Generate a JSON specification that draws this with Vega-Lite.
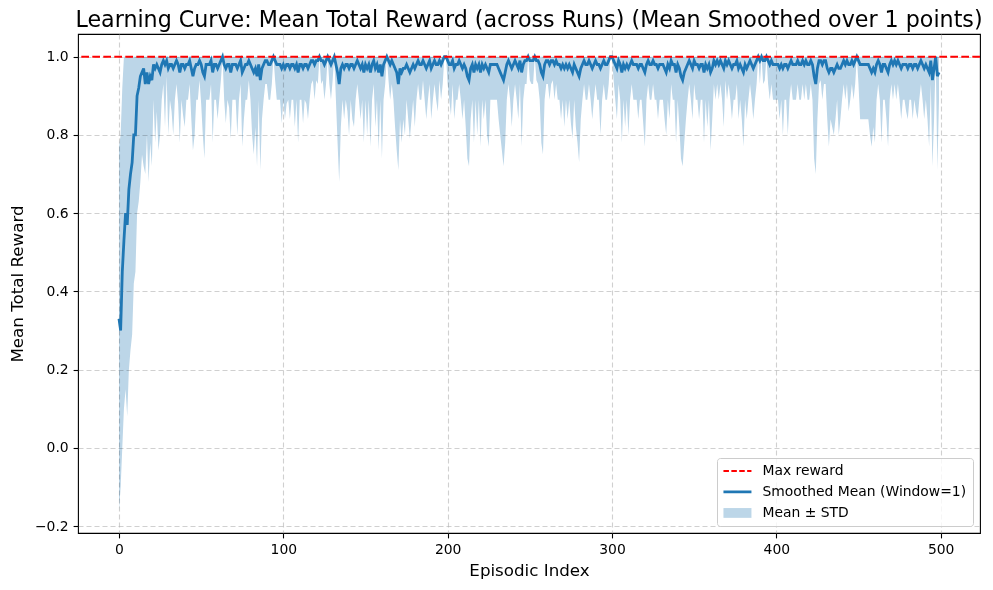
{
"$schema": "https://vega.github.io/schema/vega-lite/v6.json",
"width": 902, "height": 499,
"autosize": {"type": "none"},
"padding": {"left": 78, "top": 34, "right": 13, "bottom": 57},
"config": {
  "font": "DejaVu Sans",
  "view": {"stroke": "#000000", "strokeWidth": 1.1},
  "axis": {"domain": false, "labelFont": "DejaVu Sans", "labelFontSize": 13.9, "labelColor": "#000000", "tickColor": "#000000", "tickSize": 4.9, "tickWidth": 1.1, "labelPadding": 4.9, "grid": true, "gridColor": "#b0b0b0", "gridOpacity": 0.6, "gridDash": [5, 3], "gridWidth": 1.1, "titleFont": "DejaVu Sans", "titleFontSize": 16.7, "titleFontWeight": "normal", "titleColor": "#000000"},
  "legend": {"title": null, "orient": "bottom-right", "offset": 7, "labelFont": "DejaVu Sans", "labelFontSize": 13.9, "labelColor": "#000000", "labelLimit": 0, "symbolSize": 196, "symbolOpacity": 1, "symbolOffset": 7.5, "labelOffset": 18, "padding": 6, "rowPadding": 6, "strokeColor": "#cccccc", "fillColor": "rgba(255,255,255,0.8)", "cornerRadius": 3}
},
"title": {"text": "Learning Curve: Mean Total Reward (across Runs) (Mean Smoothed over 1 points)", "font": "DejaVu Sans", "fontSize": 22.2, "fontWeight": "normal", "color": "#000000", "anchor": "middle", "offset": 3},
"data": {"values": [
{"e":0,"m":0.33,"lo":-0.16,"hi":0.77},{"e":1,"m":0.30,"lo":-0.10,"hi":0.80},{"e":2,"m":0.45,"lo":0.0,"hi":0.92},{"e":3,"m":0.53,"lo":0.10,"hi":1},{"e":4,"m":0.60,"lo":0.15,"hi":1},{"e":5,"m":0.57,"lo":0.08,"hi":1},{"e":6,"m":0.66,"lo":0.20,"hi":1},{"e":7,"m":0.70,"lo":0.25,"hi":1},{"e":8,"m":0.73,"lo":0.29,"hi":1},{"e":9,"m":0.80,"lo":0.42,"hi":1},
{"e":10,"m":0.80,"lo":0.45,"hi":1},{"e":11,"m":0.90,"lo":0.60,"hi":1},{"e":12,"m":0.92,"lo":0.63,"hi":1},{"e":13,"m":0.95,"lo":0.68,"hi":1},{"e":14,"m":0.96,"lo":0.75,"hi":1},{"e":15,"m":0.97,"lo":0.72,"hi":1},{"e":16,"m":0.93,"lo":0.70,"hi":1},{"e":17,"m":0.96,"lo":0.80,"hi":1},{"e":18,"m":0.93,"lo":0.68,"hi":1},{"e":19,"m":0.95,"lo":0.78,"hi":1},
{"e":20,"m":0.94,"lo":0.72,"hi":1},{"e":21,"m":0.98,"lo":0.89,"hi":1},{"e":22,"m":0.97,"lo":0.78,"hi":1},{"e":23,"m":0.98,"lo":0.86,"hi":1},{"e":24,"m":0.97,"lo":0.76,"hi":1},{"e":25,"m":0.96,"lo":0.80,"hi":1},{"e":26,"m":0.98,"lo":0.89,"hi":1},{"e":27,"m":0.99,"lo":0.93,"hi":1},{"e":28,"m":0.98,"lo":0.82,"hi":1},{"e":29,"m":0.99,"lo":0.95,"hi":1},
{"e":30,"m":0.97,"lo":0.80,"hi":1},{"e":31,"m":0.98,"lo":0.89,"hi":1},{"e":32,"m":0.98,"lo":0.86,"hi":1},{"e":33,"m":0.97,"lo":0.80,"hi":1},{"e":34,"m":0.98,"lo":0.89,"hi":1},{"e":35,"m":0.99,"lo":0.93,"hi":1},{"e":36,"m":0.98,"lo":0.88,"hi":1},{"e":37,"m":0.96,"lo":0.78,"hi":1},{"e":38,"m":0.98,"lo":0.89,"hi":1},{"e":39,"m":0.98,"lo":0.85,"hi":1},
{"e":40,"m":0.97,"lo":0.82,"hi":1},{"e":41,"m":0.98,"lo":0.89,"hi":1},{"e":42,"m":0.98,"lo":0.89,"hi":1},{"e":43,"m":0.99,"lo":0.93,"hi":1},{"e":44,"m":0.97,"lo":0.84,"hi":1},{"e":45,"m":0.95,"lo":0.76,"hi":1},{"e":46,"m":0.97,"lo":0.80,"hi":1},{"e":47,"m":0.98,"lo":0.89,"hi":1},{"e":48,"m":0.98,"lo":0.89,"hi":1},{"e":49,"m":0.99,"lo":0.94,"hi":1},
{"e":50,"m":0.98,"lo":0.88,"hi":1},{"e":51,"m":0.96,"lo":0.80,"hi":1},{"e":52,"m":0.95,"lo":0.74,"hi":1},{"e":53,"m":0.98,"lo":0.89,"hi":1},{"e":54,"m":0.98,"lo":0.89,"hi":1},{"e":55,"m":0.98,"lo":0.89,"hi":1},{"e":56,"m":0.99,"lo":0.93,"hi":1},{"e":57,"m":0.96,"lo":0.78,"hi":1},{"e":58,"m":0.98,"lo":0.89,"hi":1},{"e":59,"m":0.98,"lo":0.89,"hi":1},
{"e":60,"m":0.97,"lo":0.84,"hi":1},{"e":61,"m":0.98,"lo":0.89,"hi":1},{"e":62,"m":0.99,"lo":0.94,"hi":1},{"e":63,"m":1.0,"lo":1.0,"hi":1},{"e":64,"m":0.98,"lo":0.89,"hi":1},{"e":65,"m":0.97,"lo":0.83,"hi":1},{"e":66,"m":0.98,"lo":0.89,"hi":1},{"e":67,"m":0.98,"lo":0.87,"hi":1},{"e":68,"m":0.96,"lo":0.79,"hi":1},{"e":69,"m":0.98,"lo":0.89,"hi":1},
{"e":70,"m":0.98,"lo":0.89,"hi":1},{"e":71,"m":0.98,"lo":0.89,"hi":1},{"e":72,"m":0.97,"lo":0.80,"hi":1},{"e":73,"m":0.98,"lo":0.89,"hi":1},{"e":74,"m":0.99,"lo":0.93,"hi":1},{"e":75,"m":0.96,"lo":0.77,"hi":1},{"e":76,"m":0.97,"lo":0.84,"hi":1},{"e":77,"m":0.98,"lo":0.89,"hi":1},{"e":78,"m":0.98,"lo":0.89,"hi":1},{"e":79,"m":0.99,"lo":0.94,"hi":1},
{"e":80,"m":0.98,"lo":0.89,"hi":1},{"e":81,"m":0.97,"lo":0.80,"hi":1},{"e":82,"m":0.96,"lo":0.75,"hi":1},{"e":83,"m":0.97,"lo":0.82,"hi":1},{"e":84,"m":0.95,"lo":0.72,"hi":1},{"e":85,"m":0.98,"lo":0.89,"hi":1},{"e":86,"m":0.94,"lo":0.71,"hi":1},{"e":87,"m":0.97,"lo":0.84,"hi":1},{"e":88,"m":0.98,"lo":0.89,"hi":1},{"e":89,"m":0.99,"lo":0.93,"hi":1},
{"e":90,"m":0.99,"lo":0.93,"hi":1},{"e":91,"m":0.98,"lo":0.89,"hi":1},{"e":92,"m":0.98,"lo":0.89,"hi":1},{"e":93,"m":0.99,"lo":0.93,"hi":1},{"e":94,"m":1.0,"lo":1.0,"hi":1},{"e":95,"m":0.99,"lo":0.94,"hi":1},{"e":96,"m":0.98,"lo":0.89,"hi":1},{"e":97,"m":0.98,"lo":0.89,"hi":1},{"e":98,"m":0.98,"lo":0.89,"hi":1},{"e":99,"m":0.97,"lo":0.83,"hi":1},
{"e":100,"m":0.98,"lo":0.89,"hi":1},{"e":101,"m":0.97,"lo":0.84,"hi":1},{"e":102,"m":0.98,"lo":0.88,"hi":1},{"e":103,"m":0.98,"lo":0.89,"hi":1},{"e":104,"m":0.97,"lo":0.84,"hi":1},{"e":105,"m":0.98,"lo":0.89,"hi":1},{"e":106,"m":0.98,"lo":0.89,"hi":1},{"e":107,"m":0.97,"lo":0.82,"hi":1},{"e":108,"m":0.98,"lo":0.89,"hi":1},{"e":109,"m":0.96,"lo":0.78,"hi":1},
{"e":110,"m":0.98,"lo":0.89,"hi":1},{"e":111,"m":0.98,"lo":0.89,"hi":1},{"e":112,"m":0.97,"lo":0.83,"hi":1},{"e":113,"m":0.98,"lo":0.89,"hi":1},{"e":114,"m":0.98,"lo":0.88,"hi":1},{"e":115,"m":0.97,"lo":0.84,"hi":1},{"e":116,"m":0.98,"lo":0.89,"hi":1},{"e":117,"m":0.99,"lo":0.93,"hi":1},{"e":118,"m":0.99,"lo":0.94,"hi":1},{"e":119,"m":0.98,"lo":0.89,"hi":1},
{"e":120,"m":0.99,"lo":0.94,"hi":1},{"e":121,"m":0.99,"lo":0.93,"hi":1},{"e":122,"m":1.0,"lo":1.0,"hi":1},{"e":123,"m":0.99,"lo":0.93,"hi":1},{"e":124,"m":0.99,"lo":0.94,"hi":1},{"e":125,"m":0.98,"lo":0.89,"hi":1},{"e":126,"m":0.99,"lo":0.93,"hi":1},{"e":127,"m":1.0,"lo":1.0,"hi":1},{"e":128,"m":0.99,"lo":0.93,"hi":1},{"e":129,"m":0.98,"lo":0.89,"hi":1},
{"e":130,"m":0.99,"lo":0.94,"hi":1},{"e":131,"m":1.0,"lo":1.0,"hi":1},{"e":132,"m":0.98,"lo":0.89,"hi":1},{"e":133,"m":0.96,"lo":0.78,"hi":1},{"e":134,"m":0.93,"lo":0.68,"hi":1},{"e":135,"m":0.97,"lo":0.82,"hi":1},{"e":136,"m":0.98,"lo":0.89,"hi":1},{"e":137,"m":0.97,"lo":0.84,"hi":1},{"e":138,"m":0.98,"lo":0.89,"hi":1},{"e":139,"m":0.98,"lo":0.86,"hi":1},
{"e":140,"m":0.97,"lo":0.80,"hi":1},{"e":141,"m":0.98,"lo":0.89,"hi":1},{"e":142,"m":0.98,"lo":0.84,"hi":1},{"e":143,"m":0.97,"lo":0.82,"hi":1},{"e":144,"m":0.98,"lo":0.89,"hi":1},{"e":145,"m":0.99,"lo":0.93,"hi":1},{"e":146,"m":0.98,"lo":0.89,"hi":1},{"e":147,"m":0.97,"lo":0.84,"hi":1},{"e":148,"m":0.98,"lo":0.89,"hi":1},{"e":149,"m":0.96,"lo":0.78,"hi":1},
{"e":150,"m":0.98,"lo":0.89,"hi":1},{"e":151,"m":0.97,"lo":0.80,"hi":1},{"e":152,"m":0.98,"lo":0.89,"hi":1},{"e":153,"m":0.96,"lo":0.77,"hi":1},{"e":154,"m":0.98,"lo":0.89,"hi":1},{"e":155,"m":0.99,"lo":0.93,"hi":1},{"e":156,"m":0.97,"lo":0.82,"hi":1},{"e":157,"m":0.98,"lo":0.89,"hi":1},{"e":158,"m":0.96,"lo":0.76,"hi":1},{"e":159,"m":0.98,"lo":0.89,"hi":1},
{"e":160,"m":0.95,"lo":0.74,"hi":1},{"e":161,"m":0.98,"lo":0.89,"hi":1},{"e":162,"m":0.99,"lo":0.93,"hi":1},{"e":163,"m":1.0,"lo":1.0,"hi":1},{"e":164,"m":0.99,"lo":0.94,"hi":1},{"e":165,"m":0.98,"lo":0.89,"hi":1},{"e":166,"m":0.99,"lo":0.93,"hi":1},{"e":167,"m":0.98,"lo":0.89,"hi":1},{"e":168,"m":0.97,"lo":0.82,"hi":1},{"e":169,"m":0.96,"lo":0.76,"hi":1},
{"e":170,"m":0.93,"lo":0.71,"hi":1},{"e":171,"m":0.97,"lo":0.84,"hi":1},{"e":172,"m":0.96,"lo":0.78,"hi":1},{"e":173,"m":0.97,"lo":0.84,"hi":1},{"e":174,"m":0.97,"lo":0.80,"hi":1},{"e":175,"m":0.98,"lo":0.89,"hi":1},{"e":176,"m":0.97,"lo":0.84,"hi":1},{"e":177,"m":0.96,"lo":0.79,"hi":1},{"e":178,"m":0.97,"lo":0.84,"hi":1},{"e":179,"m":0.98,"lo":0.89,"hi":1},
{"e":180,"m":0.97,"lo":0.82,"hi":1},{"e":181,"m":0.98,"lo":0.89,"hi":1},{"e":182,"m":0.99,"lo":0.93,"hi":1},{"e":183,"m":0.98,"lo":0.89,"hi":1},{"e":184,"m":0.98,"lo":0.89,"hi":1},{"e":185,"m":0.99,"lo":0.94,"hi":1},{"e":186,"m":0.98,"lo":0.89,"hi":1},{"e":187,"m":0.97,"lo":0.84,"hi":1},{"e":188,"m":0.98,"lo":0.89,"hi":1},{"e":189,"m":0.99,"lo":0.93,"hi":1},
{"e":190,"m":0.97,"lo":0.84,"hi":1},{"e":191,"m":0.98,"lo":0.89,"hi":1},{"e":192,"m":0.99,"lo":0.93,"hi":1},{"e":193,"m":0.98,"lo":0.89,"hi":1},{"e":194,"m":0.98,"lo":0.86,"hi":1},{"e":195,"m":0.99,"lo":0.94,"hi":1},{"e":196,"m":0.98,"lo":0.89,"hi":1},{"e":197,"m":0.99,"lo":0.93,"hi":1},{"e":198,"m":1.0,"lo":1.0,"hi":1},{"e":199,"m":1.0,"lo":1.0,"hi":1},
{"e":200,"m":0.99,"lo":0.93,"hi":1},{"e":201,"m":0.98,"lo":0.89,"hi":1},{"e":202,"m":0.98,"lo":0.85,"hi":1},{"e":203,"m":0.99,"lo":0.93,"hi":1},{"e":204,"m":0.97,"lo":0.84,"hi":1},{"e":205,"m":0.98,"lo":0.89,"hi":1},{"e":206,"m":0.98,"lo":0.89,"hi":1},{"e":207,"m":0.99,"lo":0.93,"hi":1},{"e":208,"m":0.98,"lo":0.89,"hi":1},{"e":209,"m":0.97,"lo":0.84,"hi":1},
{"e":210,"m":0.98,"lo":0.89,"hi":1},{"e":211,"m":0.97,"lo":0.82,"hi":1},{"e":212,"m":0.95,"lo":0.74,"hi":1},{"e":213,"m":0.94,"lo":0.72,"hi":1},{"e":214,"m":0.97,"lo":0.84,"hi":1},{"e":215,"m":0.98,"lo":0.89,"hi":1},{"e":216,"m":0.96,"lo":0.78,"hi":1},{"e":217,"m":0.98,"lo":0.89,"hi":1},{"e":218,"m":0.97,"lo":0.80,"hi":1},{"e":219,"m":0.98,"lo":0.89,"hi":1},
{"e":220,"m":0.96,"lo":0.77,"hi":1},{"e":221,"m":0.98,"lo":0.89,"hi":1},{"e":222,"m":0.97,"lo":0.84,"hi":1},{"e":223,"m":0.98,"lo":0.89,"hi":1},{"e":224,"m":0.97,"lo":0.80,"hi":1},{"e":225,"m":0.96,"lo":0.77,"hi":1},{"e":226,"m":0.98,"lo":0.89,"hi":1},{"e":227,"m":0.98,"lo":0.89,"hi":1},{"e":228,"m":0.98,"lo":0.89,"hi":1},{"e":229,"m":0.98,"lo":0.89,"hi":1},
{"e":230,"m":0.98,"lo":0.89,"hi":1},{"e":231,"m":0.97,"lo":0.84,"hi":1},{"e":232,"m":0.96,"lo":0.80,"hi":1},{"e":233,"m":0.95,"lo":0.76,"hi":1},{"e":234,"m":0.94,"lo":0.72,"hi":1},{"e":235,"m":0.96,"lo":0.78,"hi":1},{"e":236,"m":0.98,"lo":0.89,"hi":1},{"e":237,"m":0.99,"lo":0.93,"hi":1},{"e":238,"m":0.98,"lo":0.89,"hi":1},{"e":239,"m":0.97,"lo":0.82,"hi":1},
{"e":240,"m":0.98,"lo":0.89,"hi":1},{"e":241,"m":0.99,"lo":0.93,"hi":1},{"e":242,"m":0.98,"lo":0.89,"hi":1},{"e":243,"m":0.97,"lo":0.84,"hi":1},{"e":244,"m":0.99,"lo":0.93,"hi":1},{"e":245,"m":0.96,"lo":0.77,"hi":1},{"e":246,"m":0.98,"lo":0.89,"hi":1},{"e":247,"m":0.99,"lo":0.93,"hi":1},{"e":248,"m":0.99,"lo":0.93,"hi":1},{"e":249,"m":1.0,"lo":1.0,"hi":1},
{"e":250,"m":0.99,"lo":0.94,"hi":1},{"e":251,"m":0.99,"lo":0.93,"hi":1},{"e":252,"m":0.99,"lo":0.93,"hi":1},{"e":253,"m":1.0,"lo":1.0,"hi":1},{"e":254,"m":0.99,"lo":0.94,"hi":1},{"e":255,"m":0.99,"lo":0.93,"hi":1},{"e":256,"m":0.98,"lo":0.89,"hi":1},{"e":257,"m":0.96,"lo":0.78,"hi":1},{"e":258,"m":0.95,"lo":0.75,"hi":1},{"e":259,"m":0.98,"lo":0.89,"hi":1},
{"e":260,"m":0.99,"lo":0.93,"hi":1},{"e":261,"m":0.99,"lo":0.93,"hi":1},{"e":262,"m":0.98,"lo":0.89,"hi":1},{"e":263,"m":0.99,"lo":0.93,"hi":1},{"e":264,"m":0.99,"lo":0.94,"hi":1},{"e":265,"m":0.98,"lo":0.89,"hi":1},{"e":266,"m":0.99,"lo":0.93,"hi":1},{"e":267,"m":0.98,"lo":0.89,"hi":1},{"e":268,"m":0.98,"lo":0.89,"hi":1},{"e":269,"m":0.97,"lo":0.84,"hi":1},
{"e":270,"m":0.98,"lo":0.89,"hi":1},{"e":271,"m":0.97,"lo":0.82,"hi":1},{"e":272,"m":0.98,"lo":0.89,"hi":1},{"e":273,"m":0.97,"lo":0.84,"hi":1},{"e":274,"m":0.98,"lo":0.89,"hi":1},{"e":275,"m":0.97,"lo":0.83,"hi":1},{"e":276,"m":0.96,"lo":0.79,"hi":1},{"e":277,"m":0.98,"lo":0.89,"hi":1},{"e":278,"m":0.97,"lo":0.82,"hi":1},{"e":279,"m":0.96,"lo":0.78,"hi":1},
{"e":280,"m":0.95,"lo":0.73,"hi":1},{"e":281,"m":0.97,"lo":0.84,"hi":1},{"e":282,"m":0.98,"lo":0.89,"hi":1},{"e":283,"m":0.99,"lo":0.93,"hi":1},{"e":284,"m":0.98,"lo":0.89,"hi":1},{"e":285,"m":0.98,"lo":0.89,"hi":1},{"e":286,"m":0.99,"lo":0.93,"hi":1},{"e":287,"m":0.98,"lo":0.89,"hi":1},{"e":288,"m":0.97,"lo":0.84,"hi":1},{"e":289,"m":0.98,"lo":0.89,"hi":1},
{"e":290,"m":0.99,"lo":0.93,"hi":1},{"e":291,"m":0.98,"lo":0.89,"hi":1},{"e":292,"m":0.98,"lo":0.89,"hi":1},{"e":293,"m":0.97,"lo":0.80,"hi":1},{"e":294,"m":0.98,"lo":0.89,"hi":1},{"e":295,"m":0.99,"lo":0.93,"hi":1},{"e":296,"m":0.98,"lo":0.89,"hi":1},{"e":297,"m":0.98,"lo":0.89,"hi":1},{"e":298,"m":0.99,"lo":0.93,"hi":1},{"e":299,"m":1.0,"lo":1.0,"hi":1},
{"e":300,"m":1.0,"lo":1.0,"hi":1},{"e":301,"m":0.99,"lo":0.94,"hi":1},{"e":302,"m":0.98,"lo":0.89,"hi":1},{"e":303,"m":0.97,"lo":0.84,"hi":1},{"e":304,"m":0.99,"lo":0.93,"hi":1},{"e":305,"m":0.98,"lo":0.89,"hi":1},{"e":306,"m":0.96,"lo":0.78,"hi":1},{"e":307,"m":0.98,"lo":0.89,"hi":1},{"e":308,"m":0.97,"lo":0.82,"hi":1},{"e":309,"m":0.98,"lo":0.89,"hi":1},
{"e":310,"m":0.97,"lo":0.80,"hi":1},{"e":311,"m":0.98,"lo":0.89,"hi":1},{"e":312,"m":0.99,"lo":0.93,"hi":1},{"e":313,"m":0.98,"lo":0.89,"hi":1},{"e":314,"m":0.98,"lo":0.89,"hi":1},{"e":315,"m":0.98,"lo":0.89,"hi":1},{"e":316,"m":0.97,"lo":0.84,"hi":1},{"e":317,"m":0.98,"lo":0.89,"hi":1},{"e":318,"m":0.98,"lo":0.89,"hi":1},{"e":319,"m":0.97,"lo":0.83,"hi":1},
{"e":320,"m":0.96,"lo":0.77,"hi":1},{"e":321,"m":0.98,"lo":0.89,"hi":1},{"e":322,"m":0.99,"lo":0.93,"hi":1},{"e":323,"m":0.98,"lo":0.89,"hi":1},{"e":324,"m":0.98,"lo":0.89,"hi":1},{"e":325,"m":0.99,"lo":0.93,"hi":1},{"e":326,"m":0.98,"lo":0.89,"hi":1},{"e":327,"m":0.98,"lo":0.89,"hi":1},{"e":328,"m":0.97,"lo":0.84,"hi":1},{"e":329,"m":0.98,"lo":0.89,"hi":1},
{"e":330,"m":0.98,"lo":0.89,"hi":1},{"e":331,"m":0.98,"lo":0.89,"hi":1},{"e":332,"m":0.97,"lo":0.84,"hi":1},{"e":333,"m":0.96,"lo":0.80,"hi":1},{"e":334,"m":0.98,"lo":0.89,"hi":1},{"e":335,"m":0.97,"lo":0.84,"hi":1},{"e":336,"m":0.99,"lo":0.93,"hi":1},{"e":337,"m":0.98,"lo":0.89,"hi":1},{"e":338,"m":0.98,"lo":0.89,"hi":1},{"e":339,"m":0.96,"lo":0.78,"hi":1},
{"e":340,"m":0.98,"lo":0.89,"hi":1},{"e":341,"m":0.97,"lo":0.82,"hi":1},{"e":342,"m":0.95,"lo":0.74,"hi":1},{"e":343,"m":0.94,"lo":0.72,"hi":1},{"e":344,"m":0.96,"lo":0.78,"hi":1},{"e":345,"m":0.97,"lo":0.84,"hi":1},{"e":346,"m":0.98,"lo":0.89,"hi":1},{"e":347,"m":0.99,"lo":0.93,"hi":1},{"e":348,"m":0.98,"lo":0.89,"hi":1},{"e":349,"m":0.97,"lo":0.84,"hi":1},
{"e":350,"m":0.99,"lo":0.93,"hi":1},{"e":351,"m":0.98,"lo":0.89,"hi":1},{"e":352,"m":0.98,"lo":0.89,"hi":1},{"e":353,"m":0.97,"lo":0.84,"hi":1},{"e":354,"m":0.98,"lo":0.89,"hi":1},{"e":355,"m":0.98,"lo":0.89,"hi":1},{"e":356,"m":0.96,"lo":0.78,"hi":1},{"e":357,"m":0.98,"lo":0.89,"hi":1},{"e":358,"m":0.97,"lo":0.82,"hi":1},{"e":359,"m":0.98,"lo":0.89,"hi":1},
{"e":360,"m":0.96,"lo":0.76,"hi":1},{"e":361,"m":0.97,"lo":0.84,"hi":1},{"e":362,"m":0.99,"lo":0.93,"hi":1},{"e":363,"m":0.98,"lo":0.89,"hi":1},{"e":364,"m":0.99,"lo":0.93,"hi":1},{"e":365,"m":0.98,"lo":0.89,"hi":1},{"e":366,"m":0.99,"lo":0.93,"hi":1},{"e":367,"m":0.98,"lo":0.89,"hi":1},{"e":368,"m":0.97,"lo":0.82,"hi":1},{"e":369,"m":0.99,"lo":0.94,"hi":1},
{"e":370,"m":0.98,"lo":0.89,"hi":1},{"e":371,"m":0.99,"lo":0.93,"hi":1},{"e":372,"m":0.98,"lo":0.89,"hi":1},{"e":373,"m":0.97,"lo":0.84,"hi":1},{"e":374,"m":0.98,"lo":0.89,"hi":1},{"e":375,"m":0.98,"lo":0.89,"hi":1},{"e":376,"m":0.99,"lo":0.93,"hi":1},{"e":377,"m":0.97,"lo":0.84,"hi":1},{"e":378,"m":0.98,"lo":0.89,"hi":1},{"e":379,"m":0.97,"lo":0.84,"hi":1},
{"e":380,"m":0.96,"lo":0.77,"hi":1},{"e":381,"m":0.98,"lo":0.89,"hi":1},{"e":382,"m":0.97,"lo":0.84,"hi":1},{"e":383,"m":0.98,"lo":0.89,"hi":1},{"e":384,"m":0.99,"lo":0.93,"hi":1},{"e":385,"m":0.98,"lo":0.89,"hi":1},{"e":386,"m":0.97,"lo":0.84,"hi":1},{"e":387,"m":0.98,"lo":0.89,"hi":1},{"e":388,"m":0.99,"lo":0.93,"hi":1},{"e":389,"m":1.0,"lo":1.0,"hi":1},
{"e":390,"m":0.99,"lo":0.93,"hi":1},{"e":391,"m":1.0,"lo":1.0,"hi":1},{"e":392,"m":0.99,"lo":0.93,"hi":1},{"e":393,"m":0.99,"lo":0.94,"hi":1},{"e":394,"m":1.0,"lo":1.0,"hi":1},{"e":395,"m":0.99,"lo":0.93,"hi":1},{"e":396,"m":0.98,"lo":0.89,"hi":1},{"e":397,"m":0.99,"lo":0.93,"hi":1},{"e":398,"m":0.98,"lo":0.89,"hi":1},{"e":399,"m":0.98,"lo":0.89,"hi":1},
{"e":400,"m":0.98,"lo":0.89,"hi":1},{"e":401,"m":0.98,"lo":0.89,"hi":1},{"e":402,"m":0.97,"lo":0.84,"hi":1},{"e":403,"m":0.98,"lo":0.89,"hi":1},{"e":404,"m":0.97,"lo":0.80,"hi":1},{"e":405,"m":0.98,"lo":0.89,"hi":1},{"e":406,"m":0.98,"lo":0.89,"hi":1},{"e":407,"m":0.97,"lo":0.80,"hi":1},{"e":408,"m":0.98,"lo":0.89,"hi":1},{"e":409,"m":0.99,"lo":0.93,"hi":1},
{"e":410,"m":0.98,"lo":0.89,"hi":1},{"e":411,"m":0.98,"lo":0.89,"hi":1},{"e":412,"m":0.98,"lo":0.89,"hi":1},{"e":413,"m":0.99,"lo":0.93,"hi":1},{"e":414,"m":0.98,"lo":0.89,"hi":1},{"e":415,"m":0.98,"lo":0.89,"hi":1},{"e":416,"m":0.99,"lo":0.93,"hi":1},{"e":417,"m":0.98,"lo":0.89,"hi":1},{"e":418,"m":0.99,"lo":0.93,"hi":1},{"e":419,"m":0.98,"lo":0.89,"hi":1},
{"e":420,"m":0.98,"lo":0.89,"hi":1},{"e":421,"m":0.99,"lo":0.93,"hi":1},{"e":422,"m":0.98,"lo":0.89,"hi":1},{"e":423,"m":0.95,"lo":0.74,"hi":1},{"e":424,"m":0.93,"lo":0.70,"hi":1},{"e":425,"m":0.97,"lo":0.84,"hi":1},{"e":426,"m":0.99,"lo":0.93,"hi":1},{"e":427,"m":0.99,"lo":0.94,"hi":1},{"e":428,"m":0.98,"lo":0.89,"hi":1},{"e":429,"m":0.99,"lo":0.93,"hi":1},
{"e":430,"m":0.99,"lo":0.93,"hi":1},{"e":431,"m":0.97,"lo":0.84,"hi":1},{"e":432,"m":0.96,"lo":0.77,"hi":1},{"e":433,"m":0.97,"lo":0.84,"hi":1},{"e":434,"m":0.97,"lo":0.82,"hi":1},{"e":435,"m":0.96,"lo":0.80,"hi":1},{"e":436,"m":0.97,"lo":0.84,"hi":1},{"e":437,"m":0.98,"lo":0.89,"hi":1},{"e":438,"m":0.97,"lo":0.80,"hi":1},{"e":439,"m":0.97,"lo":0.84,"hi":1},
{"e":440,"m":0.98,"lo":0.89,"hi":1},{"e":441,"m":0.99,"lo":0.93,"hi":1},{"e":442,"m":0.98,"lo":0.89,"hi":1},{"e":443,"m":0.99,"lo":0.93,"hi":1},{"e":444,"m":0.98,"lo":0.86,"hi":1},{"e":445,"m":0.98,"lo":0.89,"hi":1},{"e":446,"m":0.99,"lo":0.93,"hi":1},{"e":447,"m":0.98,"lo":0.89,"hi":1},{"e":448,"m":0.99,"lo":0.93,"hi":1},{"e":449,"m":1.0,"lo":1.0,"hi":1},
{"e":450,"m":0.99,"lo":0.93,"hi":1},{"e":451,"m":0.98,"lo":0.84,"hi":1},{"e":452,"m":0.98,"lo":0.84,"hi":1},{"e":453,"m":0.98,"lo":0.84,"hi":1},{"e":454,"m":0.98,"lo":0.84,"hi":1},{"e":455,"m":0.98,"lo":0.84,"hi":1},{"e":456,"m":0.98,"lo":0.84,"hi":1},{"e":457,"m":0.97,"lo":0.80,"hi":1},{"e":458,"m":0.96,"lo":0.77,"hi":1},{"e":459,"m":0.97,"lo":0.82,"hi":1},
{"e":460,"m":0.96,"lo":0.78,"hi":1},{"e":461,"m":0.98,"lo":0.89,"hi":1},{"e":462,"m":0.99,"lo":0.93,"hi":1},{"e":463,"m":0.98,"lo":0.89,"hi":1},{"e":464,"m":0.96,"lo":0.78,"hi":1},{"e":465,"m":0.98,"lo":0.89,"hi":1},{"e":466,"m":0.98,"lo":0.89,"hi":1},{"e":467,"m":0.97,"lo":0.84,"hi":1},{"e":468,"m":0.96,"lo":0.77,"hi":1},{"e":469,"m":0.98,"lo":0.89,"hi":1},
{"e":470,"m":0.99,"lo":0.93,"hi":1},{"e":471,"m":0.98,"lo":0.89,"hi":1},{"e":472,"m":0.99,"lo":0.93,"hi":1},{"e":473,"m":0.98,"lo":0.89,"hi":1},{"e":474,"m":0.99,"lo":0.93,"hi":1},{"e":475,"m":0.98,"lo":0.89,"hi":1},{"e":476,"m":0.97,"lo":0.84,"hi":1},{"e":477,"m":0.98,"lo":0.89,"hi":1},{"e":478,"m":0.98,"lo":0.89,"hi":1},{"e":479,"m":0.98,"lo":0.86,"hi":1},
{"e":480,"m":0.97,"lo":0.84,"hi":1},{"e":481,"m":0.98,"lo":0.89,"hi":1},{"e":482,"m":0.98,"lo":0.89,"hi":1},{"e":483,"m":0.97,"lo":0.84,"hi":1},{"e":484,"m":0.98,"lo":0.89,"hi":1},{"e":485,"m":0.98,"lo":0.86,"hi":1},{"e":486,"m":0.97,"lo":0.84,"hi":1},{"e":487,"m":0.98,"lo":0.89,"hi":1},{"e":488,"m":0.99,"lo":0.93,"hi":1},{"e":489,"m":0.98,"lo":0.89,"hi":1},
{"e":490,"m":0.97,"lo":0.84,"hi":1},{"e":491,"m":0.98,"lo":0.89,"hi":1},{"e":492,"m":0.97,"lo":0.84,"hi":1},{"e":493,"m":0.96,"lo":0.77,"hi":1},{"e":494,"m":0.99,"lo":0.93,"hi":1},{"e":495,"m":0.94,"lo":0.72,"hi":1},{"e":496,"m":0.97,"lo":0.84,"hi":1},{"e":497,"m":1.0,"lo":1.0,"hi":1},{"e":498,"m":0.95,"lo":0.71,"hi":1},{"e":499,"m":0.96,"lo":0.89,"hi":1}
]},
"encoding": {
  "x": {"field": "e", "type": "quantitative", "scale": {"domain": [-24.95, 523.95], "nice": false, "zero": false}, "axis": {"values": [0, 100, 200, 300, 400, 500], "format": "d", "title": "Episodic Index", "titlePadding": 6}}
},
"layer": [
  {
    "mark": {"type": "area", "opacity": 1, "blend": "multiply"},
    "encoding": {
      "y": {"field": "lo", "type": "quantitative", "scale": {"domain": [-0.2175, 1.058], "nice": false, "zero": false}, "axis": {"values": [-0.2, 0.0, 0.2, 0.4, 0.6, 0.8, 1.0], "format": ".1f", "title": "Mean Total Reward", "titlePadding": 8}},
      "y2": {"field": "hi"},
      "color": {"datum": "Mean ± STD", "type": "nominal", "scale": {"domain": ["Max reward", "Smoothed Mean (Window=1)", "Mean ± STD"], "range": ["#ff0000", "#1f77b4", "#bcd6e8"]},
        "legend": {
          "encode": {"symbols": {"update": {
            "shape": {"signal": "datum.value === 'Mean ± STD' ? 'M-2,-0.7H2V0.7H-2Z' : 'M-2,0H2'"},
            "strokeDash": {"signal": "datum.value === 'Max reward' ? [5.5, 2.4] : [1, 0]"},
            "strokeWidth": {"signal": "datum.value === 'Mean ± STD' ? 0 : (datum.value === 'Max reward' ? 2.1 : 2.8)"},
            "opacity": {"value": 1}
          }}}
        }
      }
    }
  },
  {
    "mark": {"type": "line", "strokeWidth": 2.8},
    "encoding": {
      "y": {"field": "m", "type": "quantitative"},
      "color": {"datum": "Smoothed Mean (Window=1)", "type": "nominal",
        "legend": {
          "encode": {"symbols": {"update": {
            "shape": {"signal": "datum.value === 'Mean ± STD' ? 'M-2,-0.7H2V0.7H-2Z' : 'M-2,0H2'"},
            "strokeDash": {"signal": "datum.value === 'Max reward' ? [5.5, 2.4] : [1, 0]"},
            "strokeWidth": {"signal": "datum.value === 'Mean ± STD' ? 0 : (datum.value === 'Max reward' ? 2.1 : 2.8)"},
            "opacity": {"value": 1}
          }}}
        }
      }
    }
  },
  {
    "data": {"values": [{"r": 1.0}]},
    "mark": {"type": "rule", "strokeWidth": 2.1, "strokeDash": [7.7, 3.3]},
    "encoding": {
      "x": null,
      "y": {"field": "r", "type": "quantitative"},
      "color": {"datum": "Max reward", "type": "nominal",
        "legend": {
          "encode": {"symbols": {"update": {
            "shape": {"signal": "datum.value === 'Mean ± STD' ? 'M-2,-0.7H2V0.7H-2Z' : 'M-2,0H2'"},
            "strokeDash": {"signal": "datum.value === 'Max reward' ? [5.5, 2.4] : [1, 0]"},
            "strokeWidth": {"signal": "datum.value === 'Mean ± STD' ? 0 : (datum.value === 'Max reward' ? 2.1 : 2.8)"},
            "opacity": {"value": 1}
          }}}
        }
      }
    }
  }
]
}
